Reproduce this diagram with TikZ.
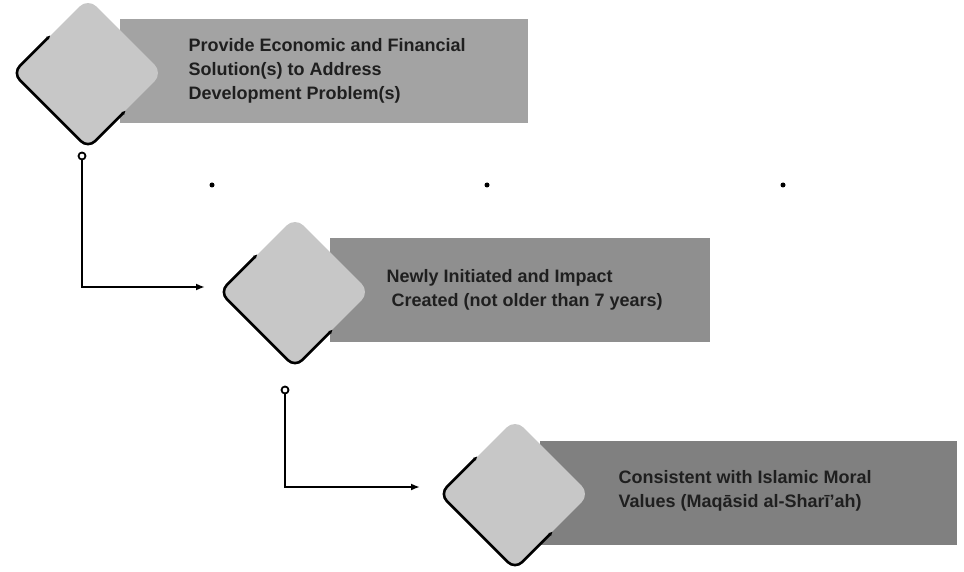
\documentclass[tikz,border=0pt]{standalone}
\usepackage{fontspec}
\setmainfont{Liberation Sans}
\usetikzlibrary{arrows.meta}
\tikzset{
  stepbox/.style={fill=black!22, rounded corners=12pt, rotate=45,
    minimum size=106pt, inner sep=0pt},
  band/.style={anchor=south west, inner sep=0pt, minimum height=104pt},
  outline/.style={line width=2.6pt, rounded corners=10pt,
    {Latex[length=4pt,width=4pt]}-{Latex[length=4pt,width=4pt]}},
  steptext/.style={anchor=west, align=left, text=black!88,
    font=\bfseries\fontsize{18}{24}\selectfont},
  ring/.style={circle, draw, line width=1.8pt, inner sep=0pt, minimum size=7pt},
  link/.style={line width=2.5pt, -{Latex[length=9pt,width=7pt]}},
}
\begin{document}
\begin{tikzpicture}[x=1pt,y=1pt]
  \useasboundingbox (0,0) rectangle (964,571);
  % bands behind the diamonds
  \node[band, fill=black!36, minimum width=408pt] (band1) at (120,448) {};
  \node[band, fill=black!44, minimum width=380pt] (band2) at (330,229) {};
  \node[band, fill=black!50, minimum width=417pt] (band3) at (540,26) {};
  % diamonds
  \node[stepbox] (dia1) at (88,498) {};
  \node[stepbox] (dia2) at (295,279) {};
  \node[stepbox] (dia3) at (515,77) {};
  \foreach \d in {dia1,dia2,dia3}
    \draw[outline] (\d.north) -- (\d.north west) -- (\d.south west) -- (\d.south);
  % texts
  \node[steptext] (txt1) at (185,500) {Provide Economic and Financial\\Solution(s) to Address\\Development Problem(s)};
  \node[steptext] (txt2) at (383,281) {Newly Initiated and Impact\\\ Created (not older than 7 years)};
  \node[steptext] (txt3) at (615,80) {Consistent with Islamic Moral\\Values (Maqāsid al-Sharī'ah)};
  % connectors
  \node[ring] (ring1) at (82,415) {};
  \node[ring] (ring2) at (285,181) {};
  \coordinate (end1) at (205,284);
  \coordinate (end2) at (420,84);
  \draw[link] (ring1) |- (end1);
  \draw[link] (ring2) |- (end2);
  % dots
  \foreach \x in {212,487,783}
    \fill (\x,386) circle (2.5pt);
\end{tikzpicture}
\end{document}
